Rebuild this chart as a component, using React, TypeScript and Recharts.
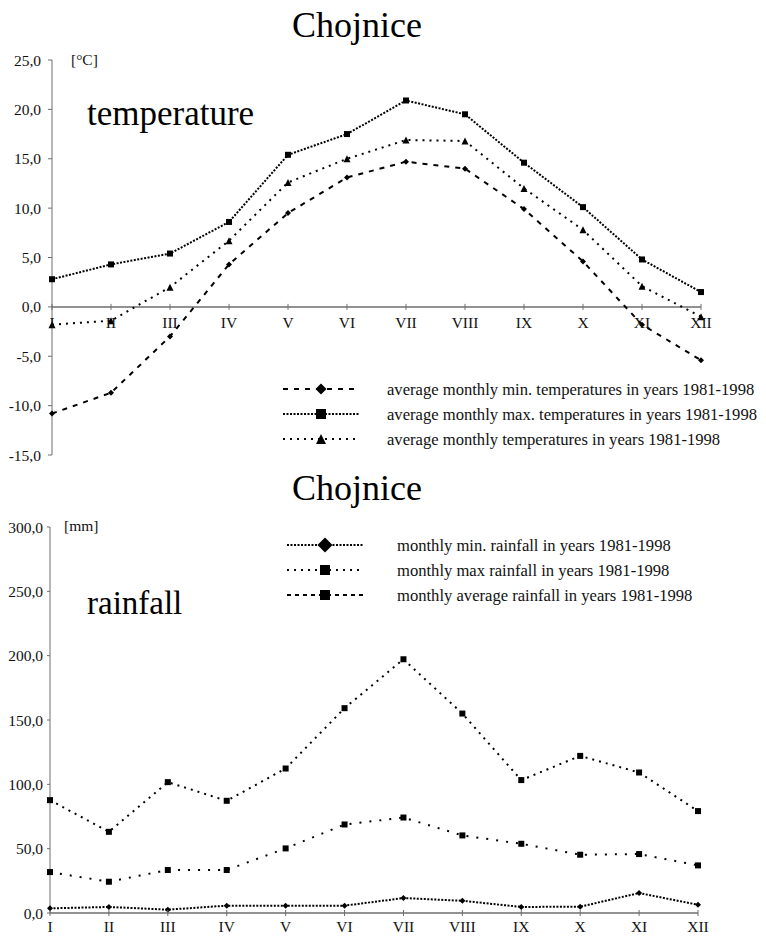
import React from "react";
import { LineChart, Line, XAxis, YAxis, ReferenceLine } from "recharts";

const months = ["I", "II", "III", "IV", "V", "VI", "VII", "VIII", "IX", "X", "XI", "XII"];

const tempMin = [-10.8, -8.7, -3.0, 4.3, 9.5, 13.1, 14.7, 14.0, 9.9, 4.6, -1.8, -5.4];
const tempMax = [2.8, 4.3, 5.4, 8.6, 15.4, 17.5, 20.9, 19.5, 14.6, 10.1, 4.8, 1.5];
const tempAvg = [-1.8, -1.4, 2.0, 6.7, 12.6, 15.0, 16.9, 16.8, 12.0, 7.8, 2.1, -1.0];
const tempTicks = [-15, -10, -5, 0, 5, 10, 15, 20, 25];

const rainMin = [3.6, 4.7, 2.6, 5.7, 5.7, 5.7, 11.6, 9.5, 4.7, 4.9, 15.5, 6.4];
const rainMax = [87.7, 63.1, 101.7, 87.2, 112.3, 159.2, 197.2, 155.0, 103.3, 122.1, 109.2, 79.2];
const rainAvg = [31.8, 24.3, 33.4, 33.4, 50.2, 68.8, 74.2, 60.3, 53.8, 45.3, 45.8, 37.0];
const rainTicks = [0, 50, 100, 150, 200, 250, 300];

const tempData = months.map((m, i) => ({ m, min: tempMin[i], max: tempMax[i], avg: tempAvg[i] }));
const rainData = months.map((m, i) => ({ m, min: rainMin[i], max: rainMax[i], avg: rainAvg[i] }));

const FONT = "'Liberation Serif', 'Times New Roman', serif";
const AXIS = "#6e6e6e";

// plot geometry (chart coords)
const T_TOP = 60;
const T_H = 395;
const T_ZERO = T_TOP + (T_H * 25) / 40;
const R_TOP = 67;
const R_H = 386;
const R_ZERO = R_TOP + R_H;

const fmt = (v: number) => v.toFixed(1).replace(".", ",");

const square = (s: number) => (p: any) =>
  p.cx == null ? null : <rect key={p.index} x={p.cx - s / 2} y={p.cy - s / 2} width={s} height={s} fill="#000" />;
const diamond = (s: number) => (p: any) =>
  p.cx == null ? null : (
    <polygon
      key={p.index}
      points={`${p.cx},${p.cy - s / 2} ${p.cx + s / 2},${p.cy} ${p.cx},${p.cy + s / 2} ${p.cx - s / 2},${p.cy}`}
      fill="#000"
    />
  );
const triangle = (s: number) => (p: any) =>
  p.cx == null ? null : (
    <polygon
      key={p.index}
      points={`${p.cx},${p.cy - s / 2} ${p.cx + s / 2},${p.cy + s / 2} ${p.cx - s / 2},${p.cy + s / 2}`}
      fill="#000"
    />
  );

const monthTick = (zeroY: number, off: number) => (p: any) => (
  <g key={p.index}>
    <line x1={p.x} x2={p.x} y1={zeroY - 3} y2={zeroY + 3} stroke={AXIS} />
    <text x={p.x} y={zeroY + off} textAnchor="middle" fontSize={15.5} fontFamily={FONT} fill="#111">
      {p.payload.value}
    </text>
  </g>
);

const LegendRow = ({ x, y, dash, marker, text, tx }: any) => (
  <g>
    <line x1={x} x2={x + 76} y1={y} y2={y} stroke="#000" strokeWidth={2} strokeDasharray={dash} />
    {marker(x + 38, y)}
    <text x={tx} y={y} dominantBaseline="central" fontSize={16.6} fontFamily={FONT} fill="#111">
      {text}
    </text>
  </g>
);

const mSquare = (s: number) => (cx: number, cy: number) => <rect x={cx - s / 2} y={cy - s / 2} width={s} height={s} fill="#000" />;
const mDiamond = (s: number) => (cx: number, cy: number) => (
  <polygon points={`${cx},${cy - s / 2} ${cx + s / 2},${cy} ${cx},${cy + s / 2} ${cx - s / 2},${cy}`} fill="#000" />
);
const mTriangle = (s: number) => (cx: number, cy: number) => (
  <polygon points={`${cx},${cy - s / 2} ${cx + s / 2},${cy + s / 2} ${cx - s / 2},${cy + s / 2}`} fill="#000" />
);

export default function App() {
  return (
    <div style={{ position: "absolute", left: 0, top: 0, width: 766, height: 937, background: "#fff", overflow: "hidden" }}>
      <div style={{ position: "absolute", left: 0, top: 0 }}>
        <LineChart width={766} height={470} data={tempData} margin={{ top: T_TOP, right: 65, bottom: 0, left: 0 }}>
          <XAxis dataKey="m" height={15} axisLine={false} tickLine={false} interval={0} tick={monthTick(T_ZERO, 21)} />
          <YAxis
            width={52}
            domain={[-15, 25]}
            ticks={tempTicks}
            tickFormatter={fmt}
            stroke={AXIS}
            tickSize={4}
            tickMargin={7}
            tick={{ fill: "#111", fontSize: 15.5, fontFamily: FONT }}
          />
          <ReferenceLine y={0} stroke={AXIS} strokeWidth={1.5} />
          <Line dataKey="max" stroke="#000" strokeWidth={2} strokeDasharray="2 1.5" dot={square(6)} isAnimationActive={false} />
          <Line dataKey="avg" stroke="#000" strokeWidth={2} strokeDasharray="2 5" dot={triangle(7)} isAnimationActive={false} />
          <Line dataKey="min" stroke="#000" strokeWidth={2} strokeDasharray="5 6" dot={diamond(6)} isAnimationActive={false} />
        </LineChart>
      </div>
      <div style={{ position: "absolute", left: 0, top: 460 }}>
        <LineChart width={766} height={477} data={rainData} margin={{ top: R_TOP, right: 68, bottom: 0, left: 0 }}>
          <XAxis dataKey="m" height={24} axisLine={false} tickLine={false} interval={0} tick={monthTick(R_ZERO, 19)} />
          <YAxis
            width={50}
            domain={[0, 300]}
            ticks={rainTicks}
            tickFormatter={fmt}
            stroke={AXIS}
            tickSize={3}
            tickMargin={4}
            tick={{ fill: "#111", fontSize: 15.5, fontFamily: FONT }}
          />
          <ReferenceLine y={0} stroke={AXIS} strokeWidth={1.5} />
          <Line dataKey="max" stroke="#000" strokeWidth={2} strokeDasharray="2 5" dot={square(6)} isAnimationActive={false} />
          <Line dataKey="avg" stroke="#000" strokeWidth={2} strokeDasharray="2 8" dot={square(6)} isAnimationActive={false} />
          <Line dataKey="min" stroke="#000" strokeWidth={2} strokeDasharray="2 1.5" dot={diamond(6)} isAnimationActive={false} />
        </LineChart>
      </div>
      <svg width={766} height={937} style={{ position: "absolute", left: 0, top: 0, pointerEvents: "none" }}>
        <text x={357} y={37} textAnchor="middle" fontSize={36} fontFamily={FONT} fill="#000">Chojnice</text>
        <text x={71} y={65} fontSize={15.5} fontFamily={FONT} fill="#111">[°C]</text>
        <text x={87} y={125} fontSize={35} fontFamily={FONT} fill="#000">temperature</text>
        <LegendRow x={283} y={389} tx={387} dash="5 6" marker={mDiamond(11)} text="average monthly min. temperatures in years 1981-1998" />
        <LegendRow x={283} y={414} tx={387} dash="2 1.5" marker={mSquare(10)} text="average monthly max. temperatures in years 1981-1998" />
        <LegendRow x={283} y={439} tx={387} dash="2 5" marker={mTriangle(10)} text="average monthly temperatures in years 1981-1998" />

        <text x={357} y={500} textAnchor="middle" fontSize={36} fontFamily={FONT} fill="#000">Chojnice</text>
        <text x={64} y={531} fontSize={15.5} fontFamily={FONT} fill="#111">[mm]</text>
        <text x={87} y={614} fontSize={33} fontFamily={FONT} fill="#000">rainfall</text>
        <LegendRow x={287} y={545} tx={397} dash="2 1.5" marker={mDiamond(15)} text="monthly min. rainfall in years 1981-1998" />
        <LegendRow x={287} y={570} tx={397} dash="2 5" marker={mSquare(10)} text="monthly max rainfall in years 1981-1998" />
        <LegendRow x={287} y={595} tx={397} dash="4 4" marker={mSquare(10)} text="monthly average rainfall in years 1981-1998" />
      </svg>
    </div>
  );
}
